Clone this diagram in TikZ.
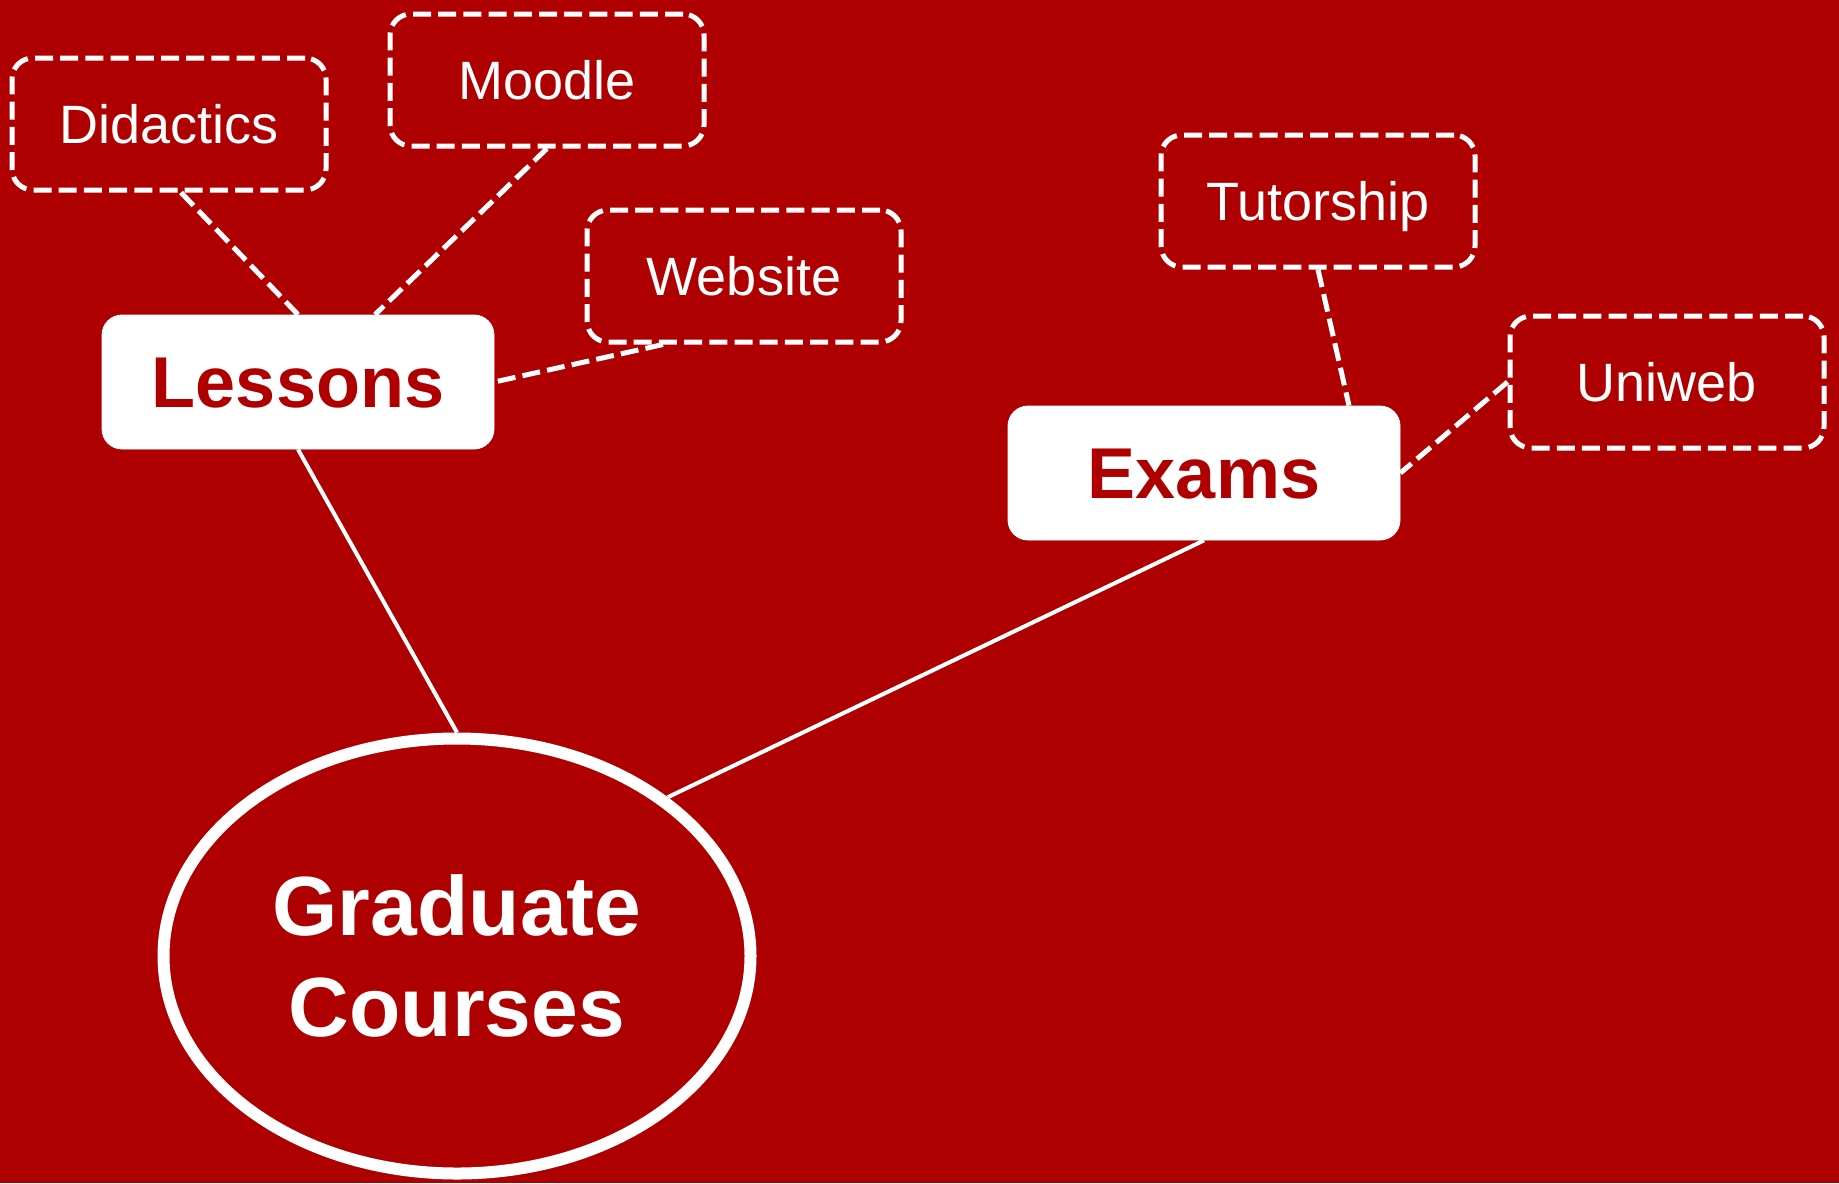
\documentclass[tikz,border=0pt]{standalone}
\usepackage{fontspec}
\setmainfont{Liberation Sans}
\usetikzlibrary{shapes.geometric}
\definecolor{bgred}{RGB}{174,0,0}
\tikzset{
  dashbox/.style={draw=white, line width=2.5pt, dash pattern=on 9pt off 3.6pt, rounded corners=10.5pt,
    minimum width=157pt, minimum height=66pt, inner sep=0pt, text=white, font=\fontsize{27}{32}\selectfont,
    text height=19.3pt, text depth=0pt},
  mainbox/.style={fill=white, draw=white, rounded corners=10pt, minimum width=196pt, minimum height=67pt,
    inner sep=0pt, text=bgred, font=\fontsize{36}{42}\selectfont\bfseries,
    text height=25.8pt, text depth=0pt},
  dashlink/.style={draw=white, line width=2.5pt, dash pattern=on 9pt off 3.6pt},
  solidlink/.style={draw=white, line width=2pt},
}
\begin{document}
\begin{tikzpicture}[x=0.5pt, y=-0.5pt]
\fill[bgred] (0,0) rectangle (1839,1183);
\useasboundingbox (0,0) rectangle (1839,1183);

\node[dashbox] (did) at (169,124) {Didactics};
\node[dashbox] (moo) at (547,80) {Moodle};
\node[dashbox] (web) at (744,276) {Website};
\node[dashbox] (tut) at (1318,201) {Tutorship};
\node[dashbox] (uni) at (1667,382) {Uniweb};

\node[mainbox] (les) at (298,382) {Lessons};
\node[mainbox] (exa) at (1204,473) {Exams};

\node[ellipse, draw=white, line width=6pt, minimum width=293.5pt, minimum height=217.5pt, inner sep=0pt,
  text=white, align=center, font=\fontsize{42}{50.4}\selectfont\bfseries] (gc) at (457,956) {Graduate\\Courses};

\draw[dashlink] ([xshift=6pt]did.south) -- (les.north);
\draw[dashlink] (moo.south) -- ([xshift=38.5pt]les.north);
\draw[dashlink] ([xshift=-40.5pt]web.south) -- (les.east);
\draw[dashlink] (tut.south) -- ([xshift=72.5pt]exa.north);
\draw[dashlink] (uni.west) -- (exa.east);

\draw[solidlink] (les.south) -- (gc.north);
\draw[solidlink] (exa.south) -- (gc.37);
\end{tikzpicture}
\end{document}
